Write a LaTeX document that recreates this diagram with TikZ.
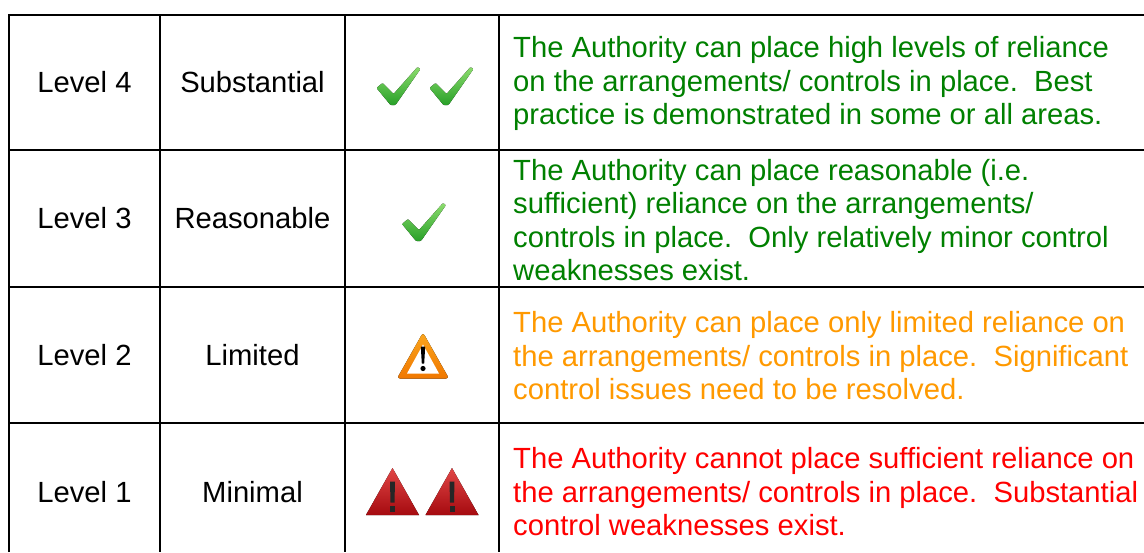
\documentclass[tikz,border=0pt]{standalone}
\usepackage{fontspec}
\setmainfont{Liberation Sans}
\definecolor{goodgreen}{RGB}{0,128,0}
\definecolor{warnorange}{RGB}{255,153,0}
\definecolor{badred}{RGB}{255,0,0}
\tikzset{
  cell/.style={font=\fontsize{29.2}{33.5}\selectfont, inner sep=0pt},
  desc/.style={cell, anchor=west, align=left},
  gridline/.style={line width=2.4pt},
  checkmark/.pic={
    \fill[top color={rgb,255:red,140;green,220;blue,110}, bottom color={rgb,255:red,40;green,160;blue,40}, rounded corners=1pt]
      (-22,2) -- (-16,-3) -- (-5,8) -- (19,-19) -- (22,-17) -- (-3,19) -- (-8,19) -- cycle;
  },
  warnsign/.pic={
    \fill[top color={rgb,255:red,250;green,165;blue,30}, bottom color={rgb,255:red,240;green,120;blue,0}, rounded corners=3pt]
      (-26,23) -- (0,-23) -- (26,23) -- cycle;
    \fill[white] (-16,18) -- (0,-11) -- (16,18) -- cycle;
    \fill (-2.2,-9) -- (2.2,-9) -- (1.2,8) -- (-1.2,8) -- cycle;
    \fill (0,13) circle (2.6);
  },
  alertsign/.pic={
    \fill[top color={rgb,255:red,225;green,70;blue,70}, bottom color={rgb,255:red,165;green,10;blue,15}]
      (-26.5,23.5) -- (0,-23.5) -- (26.5,23.5) -- cycle;
    \fill[black!85] (-2.5,-10) -- (2.5,-10) -- (2,11) -- (-2,11) -- cycle;
    \fill[black!85] (-2.5,14) rectangle (2.5,20);
  },
}
\begin{document}
\begin{tikzpicture}[x=1pt, y=-1pt]
  \useasboundingbox (0,0) rectangle (1144,552);
  \draw[gridline] (9,552) -- (9,15) -- (1144,15);
  \foreach \x in {160,345,499} \draw[gridline] (\x,15) -- (\x,552);
  \foreach \y in {150,287,423} \draw[gridline] (9,\y) -- (1144,\y);
  \foreach \y/\lvl/\rating in {82.5/4/Substantial, 218.5/3/Reasonable, 355/2/Limited, 492/1/Minimal} {
    \node[cell] (lvl\lvl) at (84.5,\y) {Level \lvl};
    \node[cell] (rate\lvl) at (252.5,\y) {\rating};
  }
  \pic (tickA) at (398.5,86) {checkmark};
  \pic (tickB) at (451.5,86) {checkmark};
  \pic (tickC) at (424,222) {checkmark};
  \pic (warn) at (423,355.5) {warnsign};
  \pic (alertA) at (392.5,491.5) {alertsign};
  \pic (alertB) at (452,491.5) {alertsign};
  \node[desc, text=goodgreen] (desc4) at (513,83.5) {The Authority can place high levels of reliance\\on the arrangements/ controls in place.\ \ Best\\practice is demonstrated in some or all areas.};
  \node[desc, text=goodgreen] (desc3) at (513,220) {The Authority can place reasonable (i.e.\\sufficient) reliance on the arrangements/\\controls in place.\ \ Only relatively minor control\\weaknesses exist.};
  \node[desc, text=warnorange] (desc2) at (513,356) {The Authority can place only limited reliance on\\the arrangements/ controls in place.\ \ Significant\\control issues need to be resolved.};
  \node[desc, text=badred] (desc1) at (513,492) {The Authority cannot place sufficient reliance on\\the arrangements/ controls in place.\ \ Substantial\\control weaknesses exist.};
\end{tikzpicture}
\end{document}
